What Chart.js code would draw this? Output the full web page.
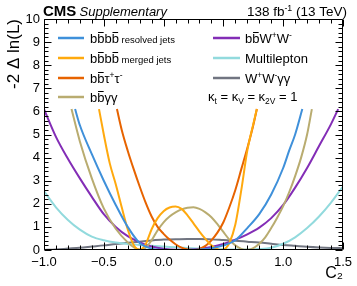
<!DOCTYPE html>
<html><head><meta charset="utf-8">
<script src="https://cdn.jsdelivr.net/npm/chart.js@4"></script>
<style>html,body{margin:0;padding:0;background:#fff}canvas{display:block}</style>
</head><body>
<canvas id="c" width="357" height="286" style="width:357px;height:286px"></canvas>
<script>
const FONT = '"Liberation Sans", Arial, Helvetica, sans-serif';

// ---- data (C2 vs -2 Delta ln L) ----
const c2Resolved = [-0.74,-0.7,-0.6,-0.5,-0.4,-0.3,-0.2,-0.1,0,0.1,0.2,0.3,0.4,0.5,0.6,0.7,0.8,0.9,1.0,1.05,1.1,1.16];
const nllResolved = [6.1,5.4,4.15,3.0,1.95,1.0,0.3,0.06,0.01,0,0,0.02,0.08,0.2,0.42,0.95,1.55,2.4,3.55,4.3,5.0,6.1];

const c2Merged = [-0.54,-0.5,-0.45,-0.4,-0.35,-0.3,-0.25,-0.2,-0.15,-0.1,-0.05,0,0.05,0.1,0.15,0.2,0.25,0.3,0.35,0.4,0.45,0.48,0.52,0.55,0.6,0.65,0.7,0.75,0.78];
const nllMerged = [6.1,5.0,3.75,2.85,1.85,0.9,0.22,0.01,0.25,0.9,1.38,1.68,1.84,1.88,1.78,1.5,1.15,0.8,0.48,0.2,0.04,0.0,0.08,0.3,1.1,2.6,4.3,5.45,6.1];

const c2Tautau = [-0.39,-0.35,-0.3,-0.25,-0.2,-0.15,-0.1,-0.05,0,0.05,0.1,0.15,0.2,0.25,0.3,0.35,0.4,0.45,0.5,0.55,0.6,0.65,0.7,0.75,0.78];
const nllTautau = [6.1,5.2,4.3,3.5,2.75,2.05,1.45,1.0,0.7,0.45,0.25,0.1,0.02,0.0,0.05,0.18,0.42,0.75,1.2,1.85,2.6,3.5,4.4,5.4,6.1];

const c2Gamgam = [-0.77,-0.7,-0.6,-0.5,-0.4,-0.3,-0.25,-0.2,-0.15,-0.1,-0.05,0,0.05,0.1,0.15,0.2,0.25,0.3,0.35,0.4,0.45,0.5,0.55,0.6,0.65,0.7,0.75,0.8,0.85,0.9,0.95,1.0,1.05,1.1,1.15,1.2,1.24];
const nllGamgam = [6.1,4.7,3.1,1.8,0.92,0.33,0.12,0.02,0.1,0.42,0.85,1.2,1.45,1.63,1.76,1.83,1.85,1.78,1.63,1.42,1.12,0.78,0.45,0.2,0.05,0.01,0.08,0.27,0.55,0.95,1.4,1.9,2.5,3.2,4.0,5.0,6.1];

const c2BbWW = [-1.0,-0.9,-0.8,-0.7,-0.6,-0.5,-0.4,-0.3,-0.2,-0.1,0,0.1,0.2,0.3,0.4,0.5,0.6,0.7,0.8,0.9,1.0,1.1,1.2,1.3,1.4,1.46];
const nllBbWW = [6.1,4.9,3.95,3.1,2.3,1.55,1.0,0.6,0.33,0.15,0.05,0.01,0.01,0.05,0.13,0.26,0.45,0.68,0.97,1.38,1.95,2.7,3.55,4.5,5.45,6.1];

const c2Multi = [-1.0,-0.9,-0.8,-0.7,-0.6,-0.5,-0.4,-0.3,-0.2,-0.1,0,0.1,0.2,0.3,0.4,0.5,0.6,0.7,0.8,0.9,1.0,1.1,1.2,1.3,1.4,1.5];
const nllMulti = [2.55,1.85,1.3,0.88,0.58,0.42,0.32,0.26,0.22,0.18,0.15,0.12,0.09,0.06,0.04,0.03,0.02,0.02,0.04,0.1,0.27,0.55,0.95,1.45,2.05,2.75];

const c2WWgg = [-1.0,-0.9,-0.8,-0.7,-0.6,-0.5,-0.4,-0.3,-0.2,-0.1,0,0.1,0.2,0.3,0.4,0.5,0.6,0.7,0.8,0.9,1.0,1.1,1.2,1.3,1.4,1.5];
const nllWWgg = [0.0,0.02,0.06,0.1,0.15,0.2,0.26,0.31,0.36,0.41,0.45,0.47,0.48,0.48,0.46,0.43,0.4,0.36,0.32,0.27,0.22,0.18,0.14,0.11,0.09,0.08];

const xRange = [-1.0, 1.5];
const yRange = [0, 10];

const COLORS = {
  resolved:'#3f90da', merged:'#ffa90e', tautau:'#e76300', gamgam:'#b9ac70',
  bbww:'#832db6', multi:'#92dadd', wwgg:'#717581'
};

function pts(xs, ys){ return xs.map((x,i)=>({x, y:ys[i]})); }
function ds(xs, ys, color){
  return {data:pts(xs,ys), borderColor:color, borderWidth:2, pointRadius:0, showLine:true,
          fill:false, cubicInterpolationMode:'monotone'};
}

function fmt(v){ const s = Math.abs(v).toFixed(1); return (v < -1e-9 ? '\u2212' : '') + s; }

function drawRich(ctx, x, y, parts, size){
  let cx = x;
  ctx.textBaseline = 'alphabetic';
  ctx.textAlign = 'left';
  for (const p of parts){
    const s = p.small ? p.small : (p.sup || p.sub) ? size*0.65 : size;
    ctx.font = `${s}px ${FONT}`;
    let yy = y;
    if (p.sup) yy = y - size*0.4;
    if (p.sub) yy = y + size*0.22;
    ctx.fillText(p.t, cx, yy);
    const w = ctx.measureText(p.t).width;
    if (p.bar) ctx.fillRect(cx + 0.8, Math.round(y - size*0.88), w - 1.6, 1);
    cx += w;
  }
  return cx;
}

const B = {t:'b'}, BB = {t:'b', bar:true};
const legendLeft = [
  {color:COLORS.resolved, parts:[B,BB,B,BB,{t:' resolved jets', small:9.5}]},
  {color:COLORS.merged, parts:[B,BB,B,BB,{t:' merged jets', small:9.5}]},
  {color:COLORS.tautau, parts:[B,BB,{t:'\u03c4'},{t:'+',sup:true},{t:'\u03c4'},{t:'-',sup:true}]},
  {color:COLORS.gamgam, parts:[B,BB,{t:'\u03b3\u03b3'}]}
];
const legendRight = [
  {color:COLORS.bbww, parts:[B,BB,{t:'W'},{t:'+',sup:true},{t:'W'},{t:'-',sup:true}]},
  {color:COLORS.multi, parts:[{t:'Multilepton'}]},
  {color:COLORS.wwgg, parts:[{t:'W'},{t:'+',sup:true},{t:'W'},{t:'-',sup:true},{t:'\u03b3\u03b3'}]}
];

const decor = {
  id:'decor',
  afterDraw(chart){
    const {ctx, chartArea:a, scales:{x, y}} = chart;
    ctx.save();
    ctx.strokeStyle = '#000'; ctx.lineWidth = 1;
    const L = Math.round(a.left)+0.5, R = Math.round(a.right)-0.5, T = Math.round(a.top)+0.5, Bt = Math.round(a.bottom)-0.5;
    ctx.beginPath();
    ctx.rect(L, T, R-L, Bt-T);
    for (let i = Math.round(xRange[0]*10); i <= Math.round(xRange[1]*10); i++){
      const px = Math.round(x.getPixelForValue(i/10)) + 0.5;
      const len = (i % 5 === 0) ? 7 : 4;
      ctx.moveTo(px, Bt); ctx.lineTo(px, Bt-len);
      ctx.moveTo(px, T); ctx.lineTo(px, T+len);
    }
    for (let j = yRange[0]*5; j <= yRange[1]*5; j++){
      const py = Math.round(y.getPixelForValue(j/5)) + 0.5;
      const len = (j % 5 === 0) ? 7 : 4;
      ctx.moveTo(L, py); ctx.lineTo(L+len, py);
      ctx.moveTo(R, py); ctx.lineTo(R-len, py);
    }
    ctx.stroke();

    ctx.fillStyle = '#000';
    ctx.textBaseline = 'alphabetic'; ctx.textAlign = 'left';
    ctx.font = `bold 15px ${FONT}`;
    ctx.fillText('CMS', 43, 16);
    const w = ctx.measureText('CMS ').width;
    ctx.font = `italic 13px ${FONT}`;
    ctx.fillText('Supplementary', 43 + w - 1, 16);
    const lumi = [{t:'138 fb'},{t:'-1',sup:true},{t:' (13 TeV)'}];
    let tw = 0;
    for (const p of lumi){ ctx.font = `${p.sup?13.5*0.65:13.5}px ${FONT}`; tw += ctx.measureText(p.t).width; }
    drawRich(ctx, 347 - tw, 16, lumi, 13.5);

    const rowsY = [38, 58, 78, 97];
    ctx.lineWidth = 2.5;
    legendLeft.forEach((e, i) => {
      const yy = rowsY[i];
      ctx.strokeStyle = e.color; ctx.beginPath(); ctx.moveTo(58, yy); ctx.lineTo(84, yy); ctx.stroke();
      ctx.fillStyle = '#000';
      drawRich(ctx, 90, yy + 5, e.parts, 13);
    });
    legendRight.forEach((e, i) => {
      const yy = rowsY[i];
      ctx.strokeStyle = e.color; ctx.beginPath(); ctx.moveTo(213, yy); ctx.lineTo(240, yy); ctx.stroke();
      ctx.fillStyle = '#000';
      drawRich(ctx, 245, yy + 5, e.parts, 13);
    });
    ctx.fillStyle = '#000';
    drawRich(ctx, 208, 101, [{t:'\u03ba'},{t:'t',sub:true},{t:' = \u03ba'},{t:'V',sub:true},{t:' = \u03ba'},{t:'2V',sub:true},{t:' = 1'}], 13);
    ctx.restore();
  }
};

new Chart(document.getElementById('c'), {
  type:'scatter',
  data:{datasets:[
    ds(c2Resolved, nllResolved, COLORS.resolved),
    ds(c2Merged, nllMerged, COLORS.merged),
    ds(c2Tautau, nllTautau, COLORS.tautau),
    ds(c2Gamgam, nllGamgam, COLORS.gamgam),
    ds(c2BbWW, nllBbWW, COLORS.bbww),
    ds(c2Multi, nllMulti, COLORS.multi),
    ds(c2WWgg, nllWWgg, COLORS.wwgg)
  ]},
  options:{
    responsive:false, animation:false, devicePixelRatio:1,
    layout:{padding:{left:0, right:10, top:19, bottom:0}},
    plugins:{legend:{display:false}, tooltip:{enabled:false}},
    scales:{
      x:{type:'linear', min:xRange[0], max:xRange[1],
         afterFit(s){ s.height = 36; },
         ticks:{stepSize:0.5, autoSkip:false, maxRotation:0, padding:5, color:'#000',
                font:{family:FONT, size:13}, callback:(v)=>fmt(v)},
         grid:{display:false, drawTicks:false}, border:{display:false},
         title:{display:true, text:'C\u2082', align:'end', color:'#000',
                font:{family:FONT, size:16}, padding:{top:0, bottom:3}}},
      y:{type:'linear', min:yRange[0], max:yRange[1],
         afterFit(s){ s.width = 44; },
         ticks:{stepSize:1, autoSkip:false, padding:4, color:'#000',
                font:{family:FONT, size:13}},
         grid:{display:false, drawTicks:false}, border:{display:false},
         title:{display:true, text:'-2 \u0394 ln(L)', align:'end', color:'#000',
                font:{family:FONT, size:17}, padding:{top:4, bottom:0}}}
    }
  },
  plugins:[decor]
});
</script>
</body></html>
